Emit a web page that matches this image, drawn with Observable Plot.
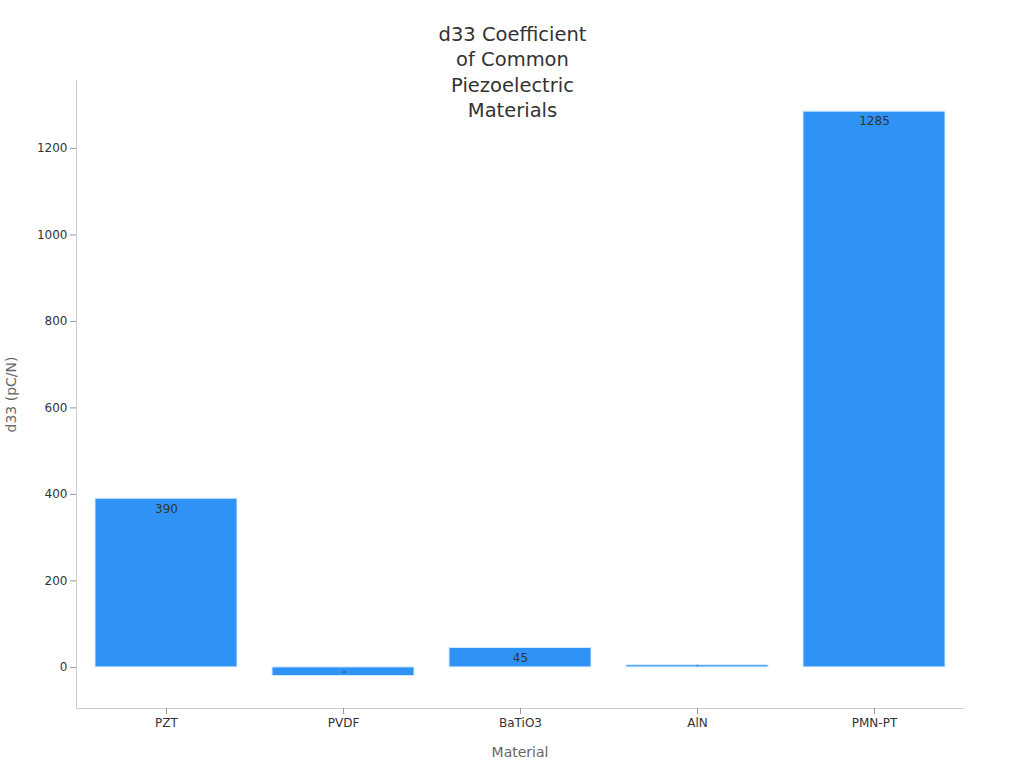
<!DOCTYPE html>
<html>
<head>
<meta charset="utf-8">
<script src="https://cdn.jsdelivr.net/npm/d3@7"></script>
<script src="https://cdn.jsdelivr.net/npm/@observablehq/plot@0.6"></script>
<style>
  html, body { margin: 0; padding: 0; background: #fff; }
  #chart svg { font-family: "DejaVu Sans", sans-serif; display: block; }
</style>
</head>
<body>
<div id="chart"></div>
<script>
const materials = ["PZT", "PVDF", "BaTiO3", "AlN", "PMN-PT"];
const d33Values = [390, -20, 45, 5, 1285];
const yTicks = [0, 200, 400, 600, 800, 1000, 1200];
const titleText = "d33 Coefficient\nof Common\nPiezoelectric\nMaterials";

const data = materials.map((m, i) => ({material: m, value: d33Values[i]}));
const bigBars = data.filter(d => Math.abs(d.value) >= 30);
const thinBars = data.filter(d => Math.abs(d.value) < 30);

const plot = Plot.plot({
  width: 1024,
  height: 768,
  marginLeft: 76,
  marginRight: 61,
  marginTop: 80,
  marginBottom: 60,
  style: {fontFamily: "DejaVu Sans, sans-serif", fontSize: "12px", color: "#333", background: "#fff"},
  x: {domain: materials, paddingInner: 0.2, paddingOuter: 0.1},
  y: {domain: [-95, 1357]},
  marks: [
    Plot.barY(data, {x: "material", y: "value", fill: "#2f93f6", stroke: "#d6ebff", strokeWidth: 1}),
    Plot.text(bigBars, {
      x: "material", y: "value", text: d => String(d.value),
      dy: 10, fill: "#333", fontSize: 12
    }),
    // labels of very thin bars: squeezed into the bar, nearly invisible
    Plot.text(thinBars, {
      x: "material", y: d => d.value / 2, text: d => String(d.value),
      fill: "#333", fontSize: 3
    }),
    Plot.frame({anchor: "left", stroke: "#cccccc"}),
    Plot.frame({anchor: "bottom", stroke: "#cccccc"}),
    Plot.axisY({ticks: yTicks, tickFormat: d => String(d), tickSize: 6, tickPadding: 3, stroke: "#999", fill: "#333", fontSize: 12,
      label: "d33 (pC/N)", labelAnchor: "center", labelArrow: false, labelOffset: 70}),
    Plot.axisX({tickSize: 6, tickPadding: 4, stroke: "#999", fill: "#333", fontSize: 12,
      label: "Material", labelAnchor: "center", labelArrow: false, labelOffset: 48}),
    Plot.text([titleText], {frameAnchor: "top", dx: -7.5, dy: -58, fontSize: 19.5, lineHeight: 1.31, fill: "#333", lineAnchor: "top"})
  ]
});

document.getElementById("chart").appendChild(plot);

// style axis labels gray and larger
d3.select(plot).selectAll("g[aria-label='y-axis label'] text, g[aria-label='x-axis label'] text")
  .attr("fill", "#666").style("font-size", "14px");
</script>
</body>
</html>
